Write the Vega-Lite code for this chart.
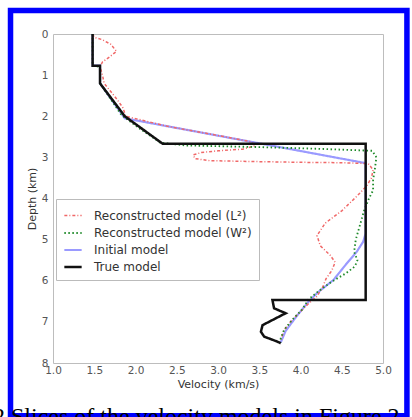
{
  "$schema": "https://vega.github.io/schema/vega-lite/v6.json",
  "width": 330,
  "height": 329,
  "autosize": {"type": "none"},
  "padding": {"left": 53, "top": 34, "right": 29, "bottom": 54},
  "background": "white",
  "title": {
    "text": "2 Slices of the velocity models in Figure 2",
    "orient": "bottom",
    "anchor": "start",
    "frame": "group",
    "font": "Liberation Serif",
    "fontSize": 24,
    "fontWeight": "normal",
    "color": "black",
    "dx": -60,
    "offset": 6,
    "baseline": "alphabetic"
  },
  "config": {
    "font": "DejaVu Sans",
    "view": {"stroke": "#bdbdbd", "strokeWidth": 1}
  },
  "layer": [
    {
      "data": {"values": [{"frame": "border"}]},
      "mark": {"type": "rect", "filled": false, "stroke": "#0000ff", "strokeWidth": 5.5, "clip": false},
      "encoding": {
        "x": {"datum": 0.485, "type": "quantitative", "scale": {"domain": [1, 5]}},
        "x2": {"datum": 5.29},
        "y": {"datum": -0.57, "type": "quantitative", "scale": {"domain": [0, 8], "reverse": true}},
        "y2": {"datum": 9.28}
      }
    },
    {
      "data": {
        "values": [
          {"model": "Initial model", "v": 1.48, "d": 0},
          {"model": "Initial model", "v": 1.48, "d": 0.77},
          {"model": "Initial model", "v": 1.57, "d": 0.77},
          {"model": "Initial model", "v": 1.57, "d": 1.2},
          {"model": "Initial model", "v": 1.87, "d": 2.05},
          {"model": "Initial model", "v": 4.79, "d": 3.14},
          {"model": "Initial model", "v": 4.79, "d": 4.85},
          {"model": "Initial model", "v": 4.76, "d": 5.05},
          {"model": "Initial model", "v": 4.68, "d": 5.3},
          {"model": "Initial model", "v": 4.56, "d": 5.58},
          {"model": "Initial model", "v": 4.4, "d": 5.98},
          {"model": "Initial model", "v": 4.2, "d": 6.3},
          {"model": "Initial model", "v": 4.08, "d": 6.55},
          {"model": "Initial model", "v": 3.95, "d": 6.87},
          {"model": "Initial model", "v": 3.82, "d": 7.22},
          {"model": "Initial model", "v": 3.76, "d": 7.5},

          {"model": "Reconstructed model (L²)", "v": 1.48, "d": 0},
          {"model": "Reconstructed model (L²)", "v": 1.5, "d": 0.08},
          {"model": "Reconstructed model (L²)", "v": 1.6, "d": 0.14},
          {"model": "Reconstructed model (L²)", "v": 1.7, "d": 0.25},
          {"model": "Reconstructed model (L²)", "v": 1.77, "d": 0.42},
          {"model": "Reconstructed model (L²)", "v": 1.69, "d": 0.55},
          {"model": "Reconstructed model (L²)", "v": 1.6, "d": 0.68},
          {"model": "Reconstructed model (L²)", "v": 1.57, "d": 0.8},
          {"model": "Reconstructed model (L²)", "v": 1.6, "d": 1.0},
          {"model": "Reconstructed model (L²)", "v": 1.62, "d": 1.2},
          {"model": "Reconstructed model (L²)", "v": 1.7, "d": 1.4},
          {"model": "Reconstructed model (L²)", "v": 1.78, "d": 1.6},
          {"model": "Reconstructed model (L²)", "v": 1.85, "d": 1.8},
          {"model": "Reconstructed model (L²)", "v": 1.88, "d": 2.0},
          {"model": "Reconstructed model (L²)", "v": 2.4, "d": 2.25},
          {"model": "Reconstructed model (L²)", "v": 2.9, "d": 2.43},
          {"model": "Reconstructed model (L²)", "v": 3.4, "d": 2.62},
          {"model": "Reconstructed model (L²)", "v": 3.45, "d": 2.72},
          {"model": "Reconstructed model (L²)", "v": 3.3, "d": 2.8},
          {"model": "Reconstructed model (L²)", "v": 3.0, "d": 2.84},
          {"model": "Reconstructed model (L²)", "v": 2.8, "d": 2.88},
          {"model": "Reconstructed model (L²)", "v": 2.7, "d": 2.94},
          {"model": "Reconstructed model (L²)", "v": 2.72, "d": 3.03},
          {"model": "Reconstructed model (L²)", "v": 2.9, "d": 3.08},
          {"model": "Reconstructed model (L²)", "v": 3.4, "d": 3.1},
          {"model": "Reconstructed model (L²)", "v": 4.0, "d": 3.12},
          {"model": "Reconstructed model (L²)", "v": 4.5, "d": 3.13},
          {"model": "Reconstructed model (L²)", "v": 4.82, "d": 3.15},
          {"model": "Reconstructed model (L²)", "v": 4.88, "d": 3.3},
          {"model": "Reconstructed model (L²)", "v": 4.86, "d": 3.5},
          {"model": "Reconstructed model (L²)", "v": 4.8, "d": 3.7},
          {"model": "Reconstructed model (L²)", "v": 4.68, "d": 3.95},
          {"model": "Reconstructed model (L²)", "v": 4.5, "d": 4.3},
          {"model": "Reconstructed model (L²)", "v": 4.3, "d": 4.6},
          {"model": "Reconstructed model (L²)", "v": 4.2, "d": 4.9},
          {"model": "Reconstructed model (L²)", "v": 4.24, "d": 5.15},
          {"model": "Reconstructed model (L²)", "v": 4.36, "d": 5.38},
          {"model": "Reconstructed model (L²)", "v": 4.42, "d": 5.55},
          {"model": "Reconstructed model (L²)", "v": 4.38, "d": 5.75},
          {"model": "Reconstructed model (L²)", "v": 4.31, "d": 5.95},
          {"model": "Reconstructed model (L²)", "v": 4.27, "d": 6.15},
          {"model": "Reconstructed model (L²)", "v": 4.2, "d": 6.38},
          {"model": "Reconstructed model (L²)", "v": 4.1, "d": 6.55},
          {"model": "Reconstructed model (L²)", "v": 4.0, "d": 6.75},
          {"model": "Reconstructed model (L²)", "v": 3.9, "d": 6.95},
          {"model": "Reconstructed model (L²)", "v": 3.8, "d": 7.2},
          {"model": "Reconstructed model (L²)", "v": 3.76, "d": 7.45},

          {"model": "Reconstructed model (W²)", "v": 1.48, "d": 0},
          {"model": "Reconstructed model (W²)", "v": 1.48, "d": 0.77},
          {"model": "Reconstructed model (W²)", "v": 1.57, "d": 0.8},
          {"model": "Reconstructed model (W²)", "v": 1.57, "d": 1.2},
          {"model": "Reconstructed model (W²)", "v": 1.83, "d": 1.97},
          {"model": "Reconstructed model (W²)", "v": 2.05, "d": 2.3},
          {"model": "Reconstructed model (W²)", "v": 2.3, "d": 2.64},
          {"model": "Reconstructed model (W²)", "v": 2.6, "d": 2.71},
          {"model": "Reconstructed model (W²)", "v": 3.5, "d": 2.75},
          {"model": "Reconstructed model (W²)", "v": 4.2, "d": 2.79},
          {"model": "Reconstructed model (W²)", "v": 4.87, "d": 2.84},
          {"model": "Reconstructed model (W²)", "v": 4.92, "d": 3.0},
          {"model": "Reconstructed model (W²)", "v": 4.9, "d": 3.3},
          {"model": "Reconstructed model (W²)", "v": 4.88, "d": 3.55},
          {"model": "Reconstructed model (W²)", "v": 4.88, "d": 3.8},
          {"model": "Reconstructed model (W²)", "v": 4.83, "d": 4.0},
          {"model": "Reconstructed model (W²)", "v": 4.77, "d": 4.3},
          {"model": "Reconstructed model (W²)", "v": 4.72, "d": 4.65},
          {"model": "Reconstructed model (W²)", "v": 4.67, "d": 5.0},
          {"model": "Reconstructed model (W²)", "v": 4.65, "d": 5.3},
          {"model": "Reconstructed model (W²)", "v": 4.69, "d": 5.5},
          {"model": "Reconstructed model (W²)", "v": 4.66, "d": 5.65},
          {"model": "Reconstructed model (W²)", "v": 4.55, "d": 5.82},
          {"model": "Reconstructed model (W²)", "v": 4.38, "d": 6.02},
          {"model": "Reconstructed model (W²)", "v": 4.22, "d": 6.25},
          {"model": "Reconstructed model (W²)", "v": 4.1, "d": 6.45},
          {"model": "Reconstructed model (W²)", "v": 4.02, "d": 6.7},
          {"model": "Reconstructed model (W²)", "v": 3.9, "d": 6.95},
          {"model": "Reconstructed model (W²)", "v": 3.8, "d": 7.2},
          {"model": "Reconstructed model (W²)", "v": 3.76, "d": 7.4},
          {"model": "Reconstructed model (W²)", "v": 3.76, "d": 7.5},

          {"model": "True model", "v": 1.48, "d": 0},
          {"model": "True model", "v": 1.48, "d": 0.77},
          {"model": "True model", "v": 1.57, "d": 0.77},
          {"model": "True model", "v": 1.57, "d": 1.2},
          {"model": "True model", "v": 1.87, "d": 2.0},
          {"model": "True model", "v": 2.33, "d": 2.67},
          {"model": "True model", "v": 4.79, "d": 2.67},
          {"model": "True model", "v": 4.79, "d": 6.47},
          {"model": "True model", "v": 3.66, "d": 6.47},
          {"model": "True model", "v": 3.68, "d": 6.67},
          {"model": "True model", "v": 3.82, "d": 6.79},
          {"model": "True model", "v": 3.54, "d": 7.08},
          {"model": "True model", "v": 3.52, "d": 7.24},
          {"model": "True model", "v": 3.56, "d": 7.36},
          {"model": "True model", "v": 3.72, "d": 7.48},
          {"model": "True model", "v": 3.76, "d": 7.52}
        ]
      },
      "mark": {"type": "line", "clip": true},
      "encoding": {
        "x": {
          "field": "v", "type": "quantitative",
          "scale": {"domain": [1, 5]},
          "axis": {
            "title": "Velocity (km/s)",
            "values": [1, 1.5, 2, 2.5, 3, 3.5, 4, 4.5, 5],
            "format": ".1f",
            "grid": false, "ticks": false, "domain": false,
            "labelFlush": false,
            "labelPadding": 2,
            "labelFontSize": 10.5,
            "labelColor": "#555555",
            "titleFontSize": 11,
            "titleColor": "#333333",
            "titleFontWeight": "normal",
            "titlePadding": 3
          }
        },
        "y": {
          "field": "d", "type": "quantitative",
          "scale": {"domain": [0, 8], "reverse": true},
          "axis": {
            "title": "Depth (km)",
            "values": [0, 1, 2, 3, 4, 5, 6, 7, 8],
            "grid": false, "ticks": false, "domain": false,
            "labelFlush": false,
            "labelPadding": 5,
            "labelFontSize": 10.5,
            "labelColor": "#555555",
            "titleFontSize": 11,
            "titleColor": "#333333",
            "titleFontWeight": "normal",
            "titlePadding": 4
          }
        },
        "order": {"value": null},
        "color": {
          "field": "model", "type": "nominal",
          "scale": {
            "domain": ["Reconstructed model (L²)", "Reconstructed model (W²)", "Initial model", "True model"],
            "range": ["#f06868", "#1f8a2a", "#9a9aff", "#111111"]
          },
          "legend": {
            "title": null,
            "orient": "none",
            "legendX": 3,
            "legendY": 165,
            "fillColor": "white",
            "strokeColor": "#bbbbbb",
            "padding": 7,
            "rowPadding": 1,
            "symbolSize": 300,
            "labelFontSize": 12,
            "labelColor": "#333333",
            "labelOffset": 11
          }
        },
        "strokeDash": {
          "field": "model", "type": "nominal",
          "scale": {
            "domain": ["Reconstructed model (L²)", "Reconstructed model (W²)", "Initial model", "True model"],
            "range": [[3, 2, 1, 2], [1.5, 2.5], [1, 0], [1, 0]]
          },
          "legend": {"title": null}
        },
        "strokeWidth": {
          "field": "model", "type": "nominal",
          "scale": {
            "domain": ["Reconstructed model (L²)", "Reconstructed model (W²)", "Initial model", "True model"],
            "range": [1.5, 2.5, 1, 2.5]
          },
          "legend": {"title": null}
        }
      }
    }
  ]
}
